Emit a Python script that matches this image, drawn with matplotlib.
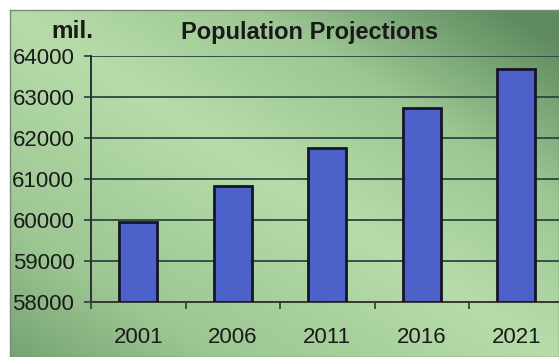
import numpy as np
import matplotlib
matplotlib.use("Agg")
import matplotlib.pyplot as plt
from matplotlib.colors import LinearSegmentedColormap

years = ["2001", "2006", "2011", "2016", "2021"]
population = [59950, 60840, 61760, 62740, 63680]
yticks = [58000, 59000, 60000, 61000, 62000, 63000, 64000]

plt.rcParams['font.family'] = ['Liberation Sans', 'DejaVu Sans']

W, H = 559, 357
fig = plt.figure(figsize=(W / 100, H / 100), dpi=100, facecolor="white")

# green gradient panel behind everything
bg = fig.add_axes([10 / W, 0, (W - 10) / W, (H - 10) / H])
xx, yy = np.meshgrid(np.linspace(0, 1, 300), np.linspace(0, 1, 200))
d = xx - yy  # yy goes top->bottom in imshow
shade = np.where(d > 0, d * 1.1, -d * 0.8)
cmap = LinearSegmentedColormap.from_list("g", ["#b6dcaa", "#9cc692", "#5f8b5f"])
bg.imshow(shade, cmap=cmap, aspect="auto", extent=[0, 1, 0, 1], vmin=0, vmax=1)
bg.set_xticks([])
bg.set_yticks([])
for s in bg.spines.values():
    s.set_color("#7a8a7a")
    s.set_linewidth(1)

# main chart
left, right, top, bottom = 91, 563.5, 56, 302
ax = fig.add_axes([left / W, (H - bottom) / H, (right - left) / W, (bottom - top) / H])
ax.patch.set_alpha(0)
x = np.arange(len(years))
ax.bar(x, np.array(population) - 58000, bottom=58000, width=0.4,
       color="#4d62c9", edgecolor="#15152a", linewidth=2, zorder=3)
ax.set_xlim(-0.5, len(years) - 0.5)
ax.set_ylim(58000, 64000)
ax.set_yticks(yticks)
ax.set_yticklabels([str(v) for v in yticks], fontsize=16, color="#1a1a1a")
ax.set_xticks(x)
ax.set_xticklabels(years, fontsize=16, color="#1a1a1a")
ax.tick_params(axis="x", length=0, pad=18)
ax.set_xticks(np.arange(len(years) + 1) - 0.5, minor=True)
ax.tick_params(axis="x", which="minor", length=5, width=1.2, color="#2a3a3a")
ax.tick_params(axis="y", length=5, width=1.2, color="#2a3a3a", pad=7)
ax.grid(axis="y", color="#2c4644", linewidth=1.3, zorder=1)
ax.set_axisbelow(True)
for s in ["top", "right"]:
    ax.spines[s].set_visible(False)
ax.spines["left"].set_color("#2a3030")
ax.spines["left"].set_linewidth(1.4)
ax.spines["bottom"].set_color("#3a3a2a")
ax.spines["bottom"].set_linewidth(1.4)

fig.text(72 / W, 1 - 32 / H, "mil.", fontsize=17.5, fontweight="bold",
         ha="center", va="center", color="#1a1a1a")
fig.text(310 / W, 1 - 32 / H, "Population Projections", fontsize=17,
         fontweight="bold", ha="center", va="center", color="#1a1a1a")

fig.savefig("out.png", dpi=100, facecolor="white")
